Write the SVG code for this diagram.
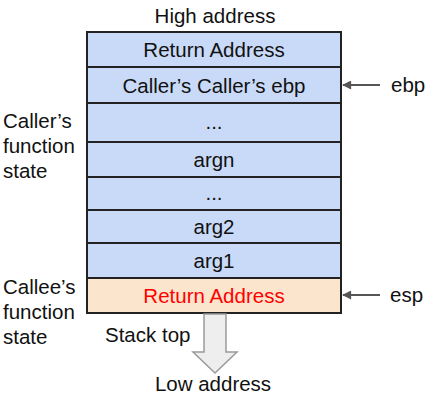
<svg xmlns="http://www.w3.org/2000/svg" width="425" height="414" viewBox="0 0 425 414">
  <style>
    text { font-family: "Liberation Sans", Arial, sans-serif; font-size: 20.5px; fill: #111; }
    .c { text-anchor: middle; }
    .blue { fill: #c9daf8; stroke: #222; stroke-width: 2; }
    .orange { fill: #fce5cd; stroke: #222; stroke-width: 2; }
    .ptr { stroke: #555; stroke-width: 2; fill: none; }
  </style>
  <defs>
    <marker id="ah" viewBox="0 0 10 10" refX="9" refY="5" markerWidth="5" markerHeight="4.5" orient="auto" markerUnits="strokeWidth">
      <path d="M0,0 L10,5 L0,10 z" fill="#555"/>
    </marker>
  </defs>
  <rect width="425" height="414" fill="#ffffff"/>

  <text id="high" class="c" x="215" y="23">High address</text>

  <g id="row-ret1"><rect class="blue" x="87" y="32" width="254" height="35"/><text class="c" x="214" y="57">Return Address</text></g>
  <g id="row-ebp"><rect class="blue" x="87" y="67" width="254" height="36"/><text class="c" x="214" y="92.5">Caller’s Caller’s ebp</text></g>
  <g id="row-dots1"><rect class="blue" x="87" y="103" width="254" height="39"/><text class="c" x="214" y="129">...</text></g>
  <g id="row-argn"><rect class="blue" x="87" y="142" width="254" height="35"/><text class="c" x="214" y="166.5">argn</text></g>
  <g id="row-dots2"><rect class="blue" x="87" y="177" width="254" height="33"/><text class="c" x="214" y="200">...</text></g>
  <g id="row-arg2"><rect class="blue" x="87" y="210" width="254" height="33"/><text class="c" x="214" y="234">arg2</text></g>
  <g id="row-arg1"><rect class="blue" x="87" y="243" width="254" height="35"/><text class="c" x="214" y="268">arg1</text></g>
  <g id="row-ret2"><rect class="orange" x="87" y="278" width="254" height="35"/><text class="c" x="214" y="303" style="fill:#ff0000">Return Address</text></g>

  <g id="label-caller">
    <text x="3" y="128">Caller’s</text>
    <text x="3" y="153">function</text>
    <text x="3" y="178">state</text>
  </g>
  <g id="label-callee">
    <text x="3" y="294">Callee’s</text>
    <text x="3" y="319">function</text>
    <text x="3" y="344">state</text>
  </g>

  <g id="label-ebp"><text x="391" y="92">ebp</text></g>
  <g id="label-esp"><text x="390" y="302">esp</text></g>
  <g id="label-stacktop"><text x="105" y="342">Stack top</text></g>
  <g id="label-low"><text class="c" x="213" y="391">Low address</text></g>

  <g id="connectors">
    <line class="ptr" x1="380" y1="85" x2="343" y2="85" marker-end="url(#ah)"/>
    <line class="ptr" x1="380" y1="295" x2="343" y2="295" marker-end="url(#ah)"/>
    <path d="M204,314 L226,314 L226,352 L237,352 L215,373 L193,352 L204,352 Z" fill="#eeeeee" stroke="#9a9a9a" stroke-width="1.5" stroke-linejoin="miter"/>
  </g>
</svg>
